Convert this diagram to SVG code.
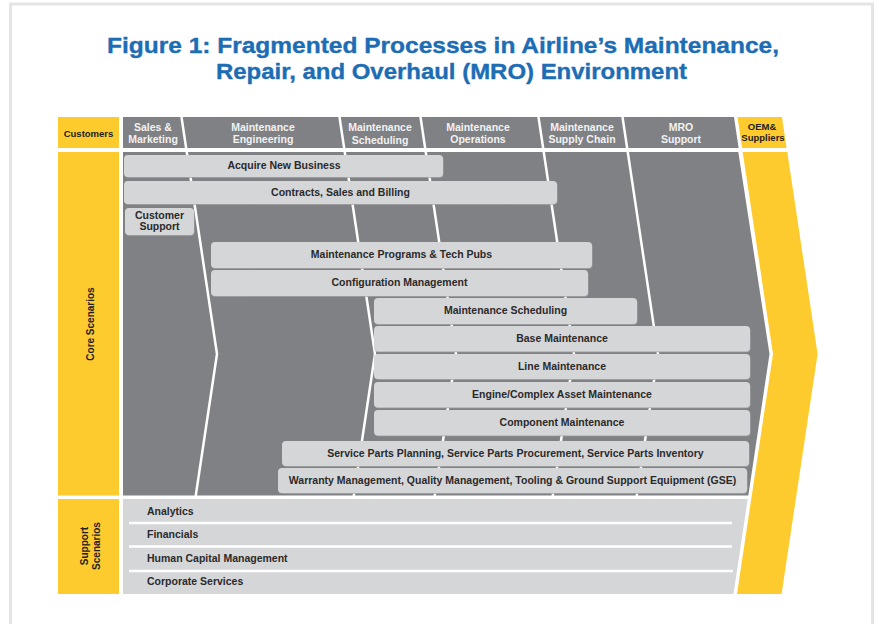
<svg xmlns="http://www.w3.org/2000/svg" width="879" height="624" viewBox="0 0 879 624">
<style>
.title{font-family:"Liberation Sans",Arial,sans-serif;font-weight:bold;font-size:22px;fill:#1d6db5;stroke:#1d6db5;stroke-width:0.35}
.hdr{font-family:"Liberation Sans",Arial,sans-serif;font-weight:bold;font-size:10.5px;fill:#f2f2f2;text-anchor:middle}
.ylt{font-family:"Liberation Sans",Arial,sans-serif;font-weight:bold;font-size:9.5px;fill:#222;text-anchor:middle}
.vlt{font-family:"Liberation Sans",Arial,sans-serif;font-weight:bold;font-size:10px;fill:#222;text-anchor:middle}
.bar{fill:#d5d6d8}
.shd{fill:#a4a5a7}
.bt{font-family:"Liberation Sans",Arial,sans-serif;font-weight:bold;font-size:10.5px;fill:#2a2a2b;text-anchor:middle}
.st{font-family:"Liberation Sans",Arial,sans-serif;font-weight:bold;font-size:10.5px;fill:#2a2a2b}
.sep{stroke:#fff;stroke-width:2.5;fill:none}
.wl{stroke:#fff;stroke-width:2.5}
.yel{fill:#fecb2f}
.gry{fill:#808184}
</style>
<rect x="0" y="0" width="879" height="624" fill="#fff"/>
<rect x="10.5" y="4" width="862" height="680" fill="#fff" stroke="#e4e4e4" stroke-width="3"/>
<g id="title">
<text class="title" x="107" y="53" textLength="672" lengthAdjust="spacingAndGlyphs">Figure 1: Fragmented Processes in Airline’s Maintenance,</text>
<text class="title" x="216" y="79" textLength="471" lengthAdjust="spacingAndGlyphs">Repair, and Overhaul (MRO) Environment</text>
</g>
<g id="left-column">
<rect class="yel" x="58" y="117" width="61" height="31"/>
<text class="ylt" x="88.5" y="136.5">Customers</text>
<rect class="yel" x="58" y="152" width="61" height="343.5"/>
<text class="vlt" transform="translate(93.5,324) rotate(-90)">Core Scenarios</text>
<rect class="yel" x="58" y="499" width="61" height="95"/>
<text class="vlt" transform="translate(88,546) rotate(-90)">Support</text>
<text class="vlt" transform="translate(100,546) rotate(-90)">Scenarios</text>
</g>
<g id="background">
<polygon class="gry" points="123,117 734,117 738.6,148 123,148"/>
<polygon class="gry" points="123,152 738.3,152 769.5,354 748.3,495.5 123,495.5"/>
<polygon fill="#d5d6d8" points="123,499 747.7,499 733.5,594 123,594"/>
</g>
<g id="oem">
<polygon class="yel" points="737.5,117 782,117 786.6,148 742.1,148"/>
<polygon class="yel" points="742.7,152 787.3,152 817.6,354 781.6,594 737,594 773,354"/>
<text class="ylt" x="762" y="129.5">OEM&amp;</text>
<text class="ylt" x="763" y="140.5">Suppliers</text>
</g>
<g id="connectors">
<polyline class="sep" points="181.5,117 217,354 195.7,496"/>
<polyline class="sep" points="339.5,117 375,354 353.7,496"/>
<polyline class="sep" points="420.5,117 456,354 434.7,496"/>
<polyline class="sep" points="538.5,117 574,354 552.7,496"/>
<polyline class="sep" points="622.5,117 658,354 636.7,496"/>
</g>
<g id="header-labels">
<text class="hdr" x="153" y="131">Sales &amp;</text>
<text class="hdr" x="153" y="142.5">Marketing</text>
<text class="hdr" x="263" y="131">Maintenance</text>
<text class="hdr" x="263" y="142.5">Engineering</text>
<text class="hdr" x="380" y="131">Maintenance</text>
<text class="hdr" x="380" y="144">Scheduling</text>
<text class="hdr" x="478" y="131">Maintenance</text>
<text class="hdr" x="478" y="142.5">Operations</text>
<text class="hdr" x="582" y="131">Maintenance</text>
<text class="hdr" x="582" y="142.5">Supply Chain</text>
<text class="hdr" x="681" y="131">MRO</text>
<text class="hdr" x="681" y="142.5">Support</text>
</g>
<g id="acquire">
<rect class="shd" x="124.5" y="155.8" width="319" height="22" rx="4"/>
<rect class="bar" x="124" y="155" width="319" height="22" rx="4"/>
<text class="bt" x="284" y="169">Acquire New Business</text>
</g>
<g id="contracts">
<rect class="shd" x="124.5" y="181.8" width="433" height="23" rx="4"/>
<rect class="bar" x="124" y="181" width="433" height="23" rx="4"/>
<text class="bt" x="340.5" y="195.5">Contracts, Sales and Billing</text>
</g>
<g id="customer-support">
<rect class="shd" x="125.5" y="208.8" width="69" height="27" rx="4"/>
<rect class="bar" x="125" y="208" width="69" height="27" rx="4"/>
<text class="bt" x="159.5" y="218.5" font-size="9.5">Customer</text>
<text class="bt" x="159.5" y="229.5" font-size="9.5">Support</text>
</g>
<g id="programs">
<rect class="shd" x="211.5" y="242.8" width="381" height="26" rx="4"/>
<rect class="bar" x="211" y="242" width="381" height="26" rx="4"/>
<text class="bt" x="401.5" y="258">Maintenance Programs &amp; Tech Pubs</text>
</g>
<g id="configuration">
<rect class="shd" x="211.5" y="270.8" width="377" height="26" rx="4"/>
<rect class="bar" x="211" y="270" width="377" height="26" rx="4"/>
<text class="bt" x="399.5" y="286">Configuration Management</text>
</g>
<g id="scheduling">
<rect class="shd" x="374.5" y="298.8" width="263" height="26" rx="4"/>
<rect class="bar" x="374" y="298" width="263" height="26" rx="4"/>
<text class="bt" x="505.5" y="314">Maintenance Scheduling</text>
</g>
<g id="base">
<rect class="shd" x="374.5" y="326.8" width="376" height="25.5" rx="4"/>
<rect class="bar" x="374" y="326" width="376" height="25.5" rx="4"/>
<text class="bt" x="562" y="342">Base Maintenance</text>
</g>
<g id="line">
<rect class="shd" x="374.5" y="354.8" width="376" height="25" rx="4"/>
<rect class="bar" x="374" y="354" width="376" height="25" rx="4"/>
<text class="bt" x="562" y="370">Line Maintenance</text>
</g>
<g id="engine">
<rect class="shd" x="374.5" y="382.8" width="376" height="25.5" rx="4"/>
<rect class="bar" x="374" y="382" width="376" height="25.5" rx="4"/>
<text class="bt" x="562" y="398">Engine/Complex Asset Maintenance</text>
</g>
<g id="component">
<rect class="shd" x="374.5" y="410.8" width="376" height="25.5" rx="4"/>
<rect class="bar" x="374" y="410" width="376" height="25.5" rx="4"/>
<text class="bt" x="562" y="426">Component Maintenance</text>
</g>
<g id="service-parts">
<rect class="shd" x="282.5" y="441.8" width="467" height="25" rx="4"/>
<rect class="bar" x="282" y="441" width="467" height="25" rx="4"/>
<text class="bt" x="515.5" y="457">Service Parts Planning, Service Parts Procurement, Service Parts Inventory</text>
</g>
<g id="warranty">
<rect class="shd" x="278.5" y="468.8" width="469" height="25" rx="4"/>
<rect class="bar" x="278" y="468" width="469" height="25" rx="4"/>
<text class="bt" x="512.5" y="484">Warranty Management, Quality Management, Tooling &amp; Ground Support Equipment (GSE)</text>
</g>
<g id="support">
<line class="wl" x1="129" y1="523" x2="732" y2="523"/>
<line class="wl" x1="129" y1="546.5" x2="732" y2="546.5"/>
<line class="wl" x1="129" y1="571" x2="733" y2="571"/>
<text class="st" x="147" y="515">Analytics</text>
<text class="st" x="147" y="538">Financials</text>
<text class="st" x="147" y="562">Human Capital Management</text>
<text class="st" x="147" y="585">Corporate Services</text>
</g>
</svg>
